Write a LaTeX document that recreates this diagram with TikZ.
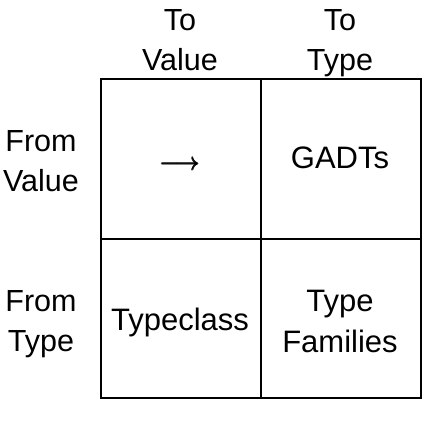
\documentclass[tikz,border=0pt]{standalone}
\usepackage{fontspec}
\usepackage{amsmath}
\setmainfont{Liberation Sans}
\usetikzlibrary{positioning}
\tikzstyle{chart} = [x = 1pt, y = -1pt]
\tikzstyle{gridLine} = [color=black, line width=2pt]
\tikzstyle{headText} = [font=\fontsize{30.5}{40}\selectfont, align=center, inner sep=0pt, anchor=north]
\tikzstyle{cellText} = [font=\fontsize{31}{40}\selectfont, inner sep=0pt, anchor=base]
\begin{document}
\begin{tikzpicture}[chart]
  \useasboundingbox (0,0) rectangle (444,422);
  % table grid
  \draw [gridLine] (101,79) rectangle (421,398);
  \draw [gridLine] (261,79) -- (261,398);
  \draw [gridLine] (101,239) -- (421,239);
  % column and row heads
  \node [headText] (toValue) at (180,9.3) {To\\Value};
  \node [headText] (toType) at (340,9.3) {To\\Type};
  \node [headText] (fromValue) at (41,130.7) {From\\Value};
  \node [headText] (fromType) at (41,290) {From\\Type};
  % cells
  \node [cellText, anchor=center, font=\fontsize{28}{34}\selectfont] (valueValue) at (180,165.5) {$\pmb{\longrightarrow}$};
  \node [cellText] (valueType) at (340,168) {GADTs};
  \node [cellText] (typeValue) at (180,330) {Typeclass};
  \node [headText, font=\fontsize{31}{41}\selectfont] (typeType) at (340,290) {Type\\Families};
\end{tikzpicture}
\end{document}
